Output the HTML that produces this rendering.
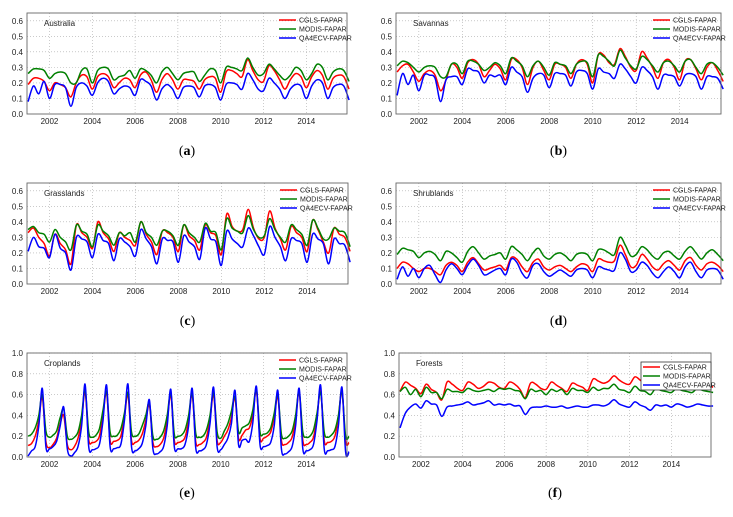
<!DOCTYPE html>
<html><head><meta charset="utf-8"><style>
body{margin:0;background:#fff;width:733px;height:517px;overflow:hidden}
svg{display:block;font-family:"Liberation Sans",sans-serif}
</style></head><body>
<svg id="fig" width="733" height="517" viewBox="0 0 733 517"></svg>
<script>
// ---- data (quarterly: Jan, Apr, Jul, Oct for 2001..2015) ----
const years = [2002,2004,2006,2008,2010,2012,2014];
const seriesNames = ["CGLS-FAPAR","MODIS-FAPAR","QA4ECV-FAPAR"];
const ytickA = ["0.0","0.1","0.2","0.3","0.4","0.5","0.6"];
const ytickE = ["0.0","0.2","0.4","0.6","0.8","1.0"];

const ausCGLS=[.19,.23,.23,.21,.15,.20,.19,.17,.11,.20,.25,.24,.16,.24,.26,.24,.17,.20,.23,.22,.17,.25,.27,.22,.14,.22,.26,.22,.16,.22,.22,.21,.16,.22,.24,.23,.14,.27,.28,.26,.24,.35,.28,.22,.21,.31,.28,.22,.16,.22,.26,.24,.17,.24,.28,.25,.16,.23,.25,.24,.16];
const ausMODIS=[.26,.29,.29,.28,.23,.26,.27,.26,.20,.20,.28,.29,.20,.28,.30,.29,.22,.24,.25,.28,.23,.29,.28,.25,.20,.27,.30,.26,.22,.26,.27,.27,.21,.25,.29,.28,.20,.30,.30,.29,.28,.36,.30,.25,.26,.32,.29,.25,.22,.25,.30,.28,.22,.26,.32,.30,.22,.27,.29,.28,.21];
const ausQA=[.08,.18,.13,.21,.10,.19,.19,.17,.05,.17,.20,.18,.12,.20,.23,.21,.13,.16,.18,.17,.12,.22,.21,.18,.09,.16,.19,.16,.10,.17,.18,.17,.11,.18,.19,.17,.09,.19,.20,.19,.16,.26,.22,.16,.15,.23,.20,.16,.10,.16,.19,.18,.10,.18,.22,.20,.10,.17,.19,.18,.09];

const savCGLS=[.27,.31,.32,.27,.21,.26,.28,.25,.15,.22,.32,.30,.23,.33,.35,.32,.24,.28,.32,.29,.22,.35,.35,.30,.19,.30,.34,.28,.22,.32,.32,.30,.23,.32,.35,.32,.20,.38,.38,.33,.32,.42,.37,.30,.28,.40,.36,.30,.23,.33,.35,.30,.22,.34,.35,.29,.22,.30,.33,.28,.21];
const savMODIS=[.31,.34,.33,.30,.27,.30,.31,.30,.24,.24,.32,.32,.26,.34,.34,.32,.28,.30,.33,.31,.26,.36,.34,.31,.24,.31,.34,.30,.25,.33,.32,.31,.26,.32,.34,.33,.24,.38,.37,.34,.31,.41,.36,.31,.29,.37,.35,.31,.27,.33,.34,.31,.27,.34,.35,.30,.26,.32,.33,.30,.25];
const savQA=[.12,.26,.19,.25,.15,.25,.25,.23,.08,.22,.24,.24,.19,.29,.28,.27,.20,.25,.24,.25,.19,.30,.27,.24,.14,.23,.26,.25,.17,.26,.26,.25,.18,.27,.28,.26,.16,.29,.27,.26,.23,.32,.29,.24,.20,.30,.28,.24,.16,.25,.25,.24,.18,.25,.26,.24,.16,.24,.24,.23,.16];

const graCGLS=[.33,.36,.30,.26,.18,.32,.26,.22,.13,.38,.33,.30,.23,.40,.33,.29,.21,.33,.30,.28,.25,.40,.32,.27,.19,.34,.33,.30,.21,.38,.31,.28,.22,.38,.33,.31,.19,.45,.37,.34,.35,.48,.36,.29,.30,.47,.36,.29,.22,.37,.33,.30,.21,.41,.35,.27,.20,.36,.32,.30,.21];
const graMODIS=[.35,.37,.33,.32,.27,.35,.30,.27,.22,.38,.34,.32,.24,.38,.34,.31,.25,.33,.31,.33,.27,.40,.33,.30,.25,.34,.34,.31,.25,.38,.33,.30,.27,.39,.34,.33,.22,.42,.36,.34,.33,.44,.35,.30,.31,.42,.35,.30,.27,.38,.35,.32,.25,.41,.36,.29,.29,.36,.34,.33,.24];
const graQA=[.21,.30,.24,.23,.17,.32,.23,.20,.09,.30,.29,.27,.17,.32,.28,.26,.15,.29,.27,.24,.18,.35,.29,.24,.13,.29,.28,.27,.14,.31,.27,.24,.16,.36,.29,.27,.12,.34,.29,.26,.24,.36,.31,.24,.19,.37,.30,.24,.15,.29,.28,.26,.14,.32,.29,.26,.13,.29,.26,.25,.14];

const shrCGLS=[.10,.14,.13,.10,.08,.10,.10,.08,.06,.12,.14,.12,.08,.14,.17,.13,.09,.10,.11,.12,.09,.17,.16,.11,.08,.14,.16,.11,.09,.11,.12,.10,.08,.11,.13,.12,.08,.16,.15,.14,.15,.25,.19,.11,.12,.19,.16,.11,.09,.13,.15,.12,.09,.15,.17,.12,.09,.13,.14,.12,.08];
const shrMODIS=[.19,.23,.22,.21,.17,.20,.21,.19,.15,.21,.20,.17,.14,.21,.24,.20,.16,.18,.19,.20,.16,.24,.22,.19,.15,.20,.23,.18,.16,.19,.20,.18,.15,.19,.20,.19,.15,.22,.22,.20,.19,.30,.25,.18,.19,.24,.22,.18,.16,.20,.21,.18,.16,.21,.24,.20,.16,.20,.22,.19,.15];
const shrQA=[.03,.11,.05,.10,.04,.10,.12,.06,.01,.09,.13,.10,.06,.12,.16,.12,.06,.07,.09,.10,.06,.16,.14,.07,.04,.12,.13,.08,.05,.07,.09,.07,.05,.09,.10,.09,.04,.11,.10,.09,.09,.20,.16,.08,.09,.14,.12,.07,.04,.08,.11,.08,.04,.11,.14,.08,.04,.09,.10,.09,.03];

// croplands: 6 values per year (bi-monthly)
const croCGLS=[.11,.13,.20,.35,.58,.15,.09,.12,.18,.32,.40,.12,.07,.10,.18,.35,.63,.17,.14,.15,.20,.40,.62,.16,.15,.16,.20,.38,.60,.16,.14,.16,.22,.35,.50,.14,.10,.12,.18,.35,.60,.16,.14,.15,.19,.35,.60,.15,.12,.14,.19,.36,.60,.16,.14,.20,.26,.38,.57,.18,.21,.26,.28,.40,.64,.18,.18,.20,.24,.38,.58,.16,.12,.14,.19,.36,.62,.16,.12,.14,.19,.38,.64,.16,.14,.15,.20,.38,.63,.15,.14];
const croMODIS=[.20,.22,.28,.40,.60,.25,.19,.21,.25,.38,.46,.20,.17,.19,.24,.40,.65,.24,.19,.21,.27,.45,.63,.24,.20,.21,.27,.42,.62,.24,.20,.22,.30,.40,.52,.20,.17,.19,.25,.40,.62,.22,.20,.21,.26,.40,.61,.23,.19,.20,.26,.40,.62,.24,.18,.25,.32,.44,.58,.24,.28,.30,.33,.45,.65,.24,.22,.23,.28,.42,.60,.22,.18,.20,.25,.40,.63,.24,.19,.20,.26,.42,.62,.24,.19,.21,.26,.40,.63,.20,.20];
const croQA=[.01,.06,.10,.30,.66,.10,.08,.10,.15,.30,.48,.08,.01,.04,.10,.30,.70,.10,.07,.08,.12,.35,.69,.10,.08,.09,.12,.35,.70,.10,.06,.08,.13,.30,.55,.08,.03,.05,.10,.30,.65,.10,.08,.08,.12,.30,.66,.09,.06,.07,.12,.32,.67,.10,.07,.12,.18,.32,.64,.12,.16,.17,.15,.33,.68,.12,.10,.11,.14,.30,.64,.08,.03,.05,.10,.30,.66,.08,.06,.07,.12,.35,.69,.08,.06,.07,.10,.30,.67,.05,.05];

const forCGLS=[.63,.72,.69,.66,.61,.70,.65,.62,.55,.72,.70,.66,.64,.72,.70,.66,.68,.72,.71,.67,.66,.72,.70,.65,.57,.71,.70,.66,.65,.72,.69,.66,.63,.71,.69,.67,.64,.75,.73,.71,.73,.78,.74,.71,.70,.77,.74,.70,.66,.75,.72,.70,.67,.74,.72,.70,.66,.73,.72,.70,.67];
const forMODIS=[.63,.67,.60,.65,.58,.67,.62,.62,.56,.65,.63,.63,.62,.66,.64,.63,.64,.65,.63,.66,.65,.66,.64,.63,.56,.65,.63,.64,.60,.65,.63,.65,.60,.66,.64,.64,.62,.67,.64,.66,.66,.70,.65,.64,.62,.68,.64,.63,.60,.66,.64,.63,.62,.66,.64,.63,.62,.66,.64,.63,.62];
const forQA=[.28,.42,.48,.51,.47,.54,.51,.50,.39,.48,.49,.50,.51,.53,.50,.51,.52,.54,.50,.51,.50,.51,.49,.49,.41,.47,.48,.48,.49,.48,.48,.49,.47,.48,.49,.48,.48,.50,.50,.49,.51,.55,.51,.49,.48,.53,.50,.48,.45,.50,.49,.50,.48,.51,.50,.48,.49,.51,.50,.49,.49];

// ---- layout ----
const panels=[
 {id:"a",name:"Australia",x0:27,x1:347,y0:13,y1:114,ymax:0.65,ticks:ytickA,step:0.1,per:4,d:[ausCGLS,ausMODIS,ausQA]},
 {id:"b",name:"Savannas",x0:396,x1:721,y0:13,y1:114,ymax:0.65,ticks:ytickA,step:0.1,per:4,d:[savCGLS,savMODIS,savQA]},
 {id:"c",name:"Grasslands",x0:27,x1:348,y0:183,y1:284,ymax:0.65,ticks:ytickA,step:0.1,per:4,d:[graCGLS,graMODIS,graQA]},
 {id:"d",name:"Shrublands",x0:396,x1:721,y0:183,y1:284,ymax:0.65,ticks:ytickA,step:0.1,per:4,d:[shrCGLS,shrMODIS,shrQA]},
 {id:"e",name:"Croplands",x0:27,x1:347,y0:353,y1:457,ymax:1.0,ticks:ytickE,step:0.2,per:6,d:[croCGLS,croMODIS,croQA]},
 {id:"f",name:"Forests",x0:399,x1:711,y0:353,y1:457,ymax:1.0,ticks:ytickE,step:0.2,per:4,d:[forCGLS,forMODIS,forQA],box:true}
];
const colors=["#ff0000","#008000","#0000ff"];
const XMIN=2000.95, XMAX=2015.9;
const NS="http://www.w3.org/2000/svg";
const svg=document.getElementById("fig");
function mk(tag,attrs,parent){const e=document.createElementNS(NS,tag);for(const k in attrs)e.setAttribute(k,attrs[k]);(parent||svg).appendChild(e);return e;}
function smoothPath(P){
  let d="M"+P[0][0].toFixed(1)+","+P[0][1].toFixed(1);
  for(let i=0;i<P.length-1;i++){
    const p0=P[Math.max(0,i-1)],p1=P[i],p2=P[i+1],p3=P[Math.min(P.length-1,i+2)];
    const c1=[p1[0]+(p2[0]-p0[0])/6,p1[1]+(p2[1]-p0[1])/6];
    const c2=[p2[0]-(p3[0]-p1[0])/6,p2[1]-(p3[1]-p1[1])/6];
    d+=" C"+c1[0].toFixed(1)+","+c1[1].toFixed(1)+" "+c2[0].toFixed(1)+","+c2[1].toFixed(1)+" "+p2[0].toFixed(1)+","+p2[1].toFixed(1);
  }
  return d;
}
const labelY=[155,155,325,325,497,497];
panels.forEach((p,pi)=>{
  const g=mk("g",{});
  
  
  const sx=t=>p.x0+(t-XMIN)/(XMAX-XMIN)*(p.x1-p.x0);
  const sy=v=>p.y1-v/p.ymax*(p.y1-p.y0);
  years.forEach(yr=>{
    const x=sx(yr);
    const l=mk("line",{x1:x,x2:x,y1:p.y0,y2:p.y1,stroke:"#aaa","stroke-width":0.6,"stroke-dasharray":"1,2"},g);
    
    
    const t=mk("text",{x:x,y:p.y1+10,"font-size":8,"text-anchor":"middle",fill:"#222"},g);
    t.textContent=yr;
    
    
  });
  p.ticks.forEach((lab,i)=>{
    const y=sy(i*p.step);
    if(i>0){const l=mk("line",{x1:p.x0,x2:p.x1,y1:y,y2:y,stroke:"#aaa","stroke-width":0.6,"stroke-dasharray":"1,2"},g);
    
    }
    const t=mk("text",{x:p.x0-4,y:y+3,"font-size":8,"text-anchor":"end",fill:"#222"},g);
    t.textContent=lab;
    
    
  });
  p.d.forEach((arr,si)=>{
    const P=arr.map((v,i)=>[sx(2001+i/p.per),sy(v)]);
    const pl=mk("path",{d:smoothPath(P),fill:"none",stroke:colors[si],"stroke-width":1.5,"stroke-linejoin":"round"},g);
    
    
  });
  const fr=mk("rect",{x:p.x0,y:p.y0,width:p.x1-p.x0,height:p.y1-p.y0,fill:"none",stroke:"#666","stroke-width":0.9},g);
  
  
  const ti=mk("text",{x:p.x0+17,y:p.y0+13,"font-size":8,fill:"#222"},g);
  ti.textContent=p.name;
  
  
  const lx=p.x1-68, ly=p.y0+7;
  if(p.box){const b=mk("rect",{x:p.x1-70,y:p.y0+9,width:70,height:28,fill:"#fff",stroke:"#333","stroke-width":0.8},g);
    
    }
  seriesNames.forEach((n,si)=>{
    const yy=(p.box?p.y0+14:ly)+si*9;
    const le=mk("g",{},g);
    
    
    mk("line",{x1:lx,x2:lx+17,y1:yy,y2:yy,stroke:colors[si],"stroke-width":1.5},le);
    const t=mk("text",{x:lx+20,y:yy+2.5,"font-size":7,fill:"#222"},le);
    t.textContent=n;
  });
  const sl=mk("text",{x:(p.x0+p.x1)/2,y:labelY[pi],"font-size":14,"text-anchor":"middle",fill:"#000","font-family":"Liberation Serif, serif"},g);
  sl.innerHTML='(<tspan font-weight="bold">'+p.id+'</tspan>)';
  
  
});
</script>
</body></html>
